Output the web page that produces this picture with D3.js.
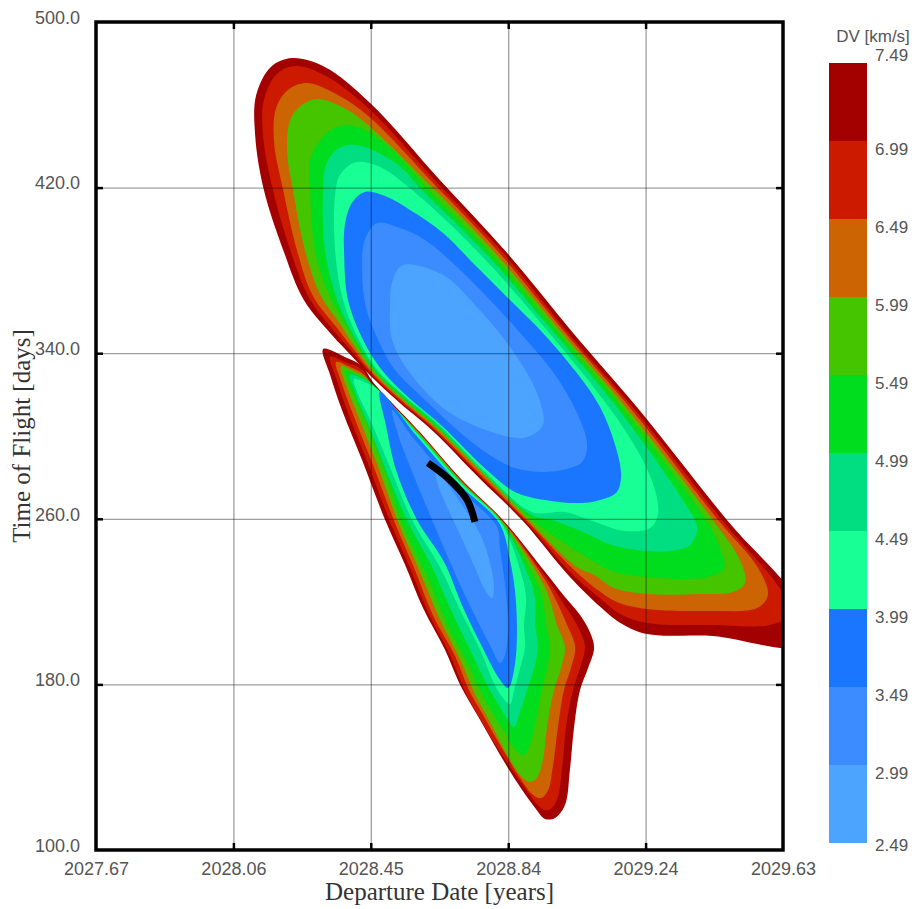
<!DOCTYPE html>
<html lang="en">
<head>
<meta charset="utf-8">
<title>Porkchop plot</title>
<script src="https://cdn.jsdelivr.net/npm/d3@7"></script>
<style>
  body { margin: 0; background: #fff; }
  .tick-label text { font-family: "Liberation Sans", Arial, sans-serif; font-size: 18px; fill: #555; }
  .cb-label { font-family: "Liberation Sans", Arial, sans-serif; font-size: 17px; fill: #555; }
  .axis-title { font-family: "Liberation Serif", "Times New Roman", serif; font-size: 25px; fill: #333; }
</style>
</head>
<body>
<svg id="chart" width="918" height="909"></svg>
<script>

var xTicks = [2027.67, 2028.062, 2028.454, 2028.846, 2029.238, 2029.63];
var xTickLabels = ["2027.67", "2028.06", "2028.45", "2028.84", "2029.24", "2029.63"];
var yTicks = [100, 180, 260, 340, 420, 500];
var dvLevels = [7.49, 6.99, 6.49, 5.99, 5.49, 4.99, 4.49, 3.99, 3.49, 2.99, 2.49];
var bandColors = ["#a30000", "#cc1a00", "#cc6404", "#45c400", "#00dc1e", "#00de82", "#18ff96", "#1a76ff", "#3c8cff", "#4ca4ff"];

// contour lines: [departure year, time of flight days]
// upper lobe, region below each level
var up749 = [[2028.457,328.5],[2028.375,343.0],[2028.338,349.8],[2028.263,365.7],[2028.204,389.9],[2028.149,418.8],[2028.124,445.4],[2028.127,464.7],[2028.169,478.3],[2028.229,482.6],[2028.323,478.3],[2028.452,460.9],[2028.651,423.7],[2028.843,388.4],[2029.031,349.8],[2029.213,314.0],[2029.470,259.4],[2029.679,217.4],[2029.679,199.0],[2029.430,203.4],[2029.242,204.3],[2029.171,209.2],[2029.122,215.5],[2029.022,231.9],[2028.888,258.9],[2028.766,279.2],[2028.631,302.4],[2028.537,315.9]];
var up699 = [[2028.460,329.0],[2028.386,343.5],[2028.349,350.7],[2028.278,366.7],[2028.224,389.9],[2028.175,418.8],[2028.147,444.4],[2028.149,462.3],[2028.186,474.9],[2028.238,478.7],[2028.321,474.4],[2028.446,458.5],[2028.663,418.8],[2028.837,387.4],[2029.022,348.8],[2029.208,312.6],[2029.456,259.4],[2029.633,222.7],[2029.639,212.6],[2029.593,208.7],[2029.430,208.7],[2029.242,209.7],[2029.165,214.0],[2029.117,220.3],[2029.028,233.3],[2028.891,259.4],[2028.768,280.2],[2028.634,302.9],[2028.540,316.4]];
var up649 = [[2028.463,329.5],[2028.395,344.0],[2028.360,351.7],[2028.289,367.6],[2028.243,389.9],[2028.204,418.8],[2028.178,442.0],[2028.184,458.5],[2028.221,467.6],[2028.272,470.5],[2028.338,466.7],[2028.440,455.6],[2028.651,418.8],[2028.826,387.4],[2029.014,348.8],[2029.199,312.6],[2029.445,259.4],[2029.559,236.2],[2029.587,223.2],[2029.556,216.9],[2029.430,215.5],[2029.242,216.4],[2029.156,219.8],[2029.102,225.6],[2029.034,235.3],[2028.894,259.9],[2028.771,280.7],[2028.637,303.4],[2028.543,316.9]];
var up599 = [[2028.466,330.0],[2028.403,344.4],[2028.372,352.7],[2028.309,368.6],[2028.266,389.9],[2028.232,418.8],[2028.215,438.2],[2028.226,453.6],[2028.261,460.4],[2028.303,462.8],[2028.366,459.4],[2028.429,452.7],[2028.637,418.8],[2028.814,387.4],[2029.005,348.8],[2029.188,312.6],[2029.430,259.4],[2029.507,240.1],[2029.522,229.0],[2029.487,224.6],[2029.393,223.7],[2029.242,223.7],[2029.148,226.6],[2029.091,232.9],[2029.042,236.7],[2028.897,260.4],[2028.774,281.6],[2028.640,303.9],[2028.546,317.4]];
var up549 = [[2028.469,330.4],[2028.412,344.9],[2028.383,353.6],[2028.332,369.6],[2028.295,389.9],[2028.281,418.8],[2028.283,434.3],[2028.323,445.4],[2028.366,449.8],[2028.423,448.8],[2028.509,439.1],[2028.620,418.8],[2028.800,387.4],[2028.994,348.8],[2029.176,312.6],[2029.410,259.4],[2029.450,245.9],[2029.462,236.2],[2029.416,231.9],[2029.242,231.9],[2029.142,234.8],[2029.079,240.6],[2028.980,251.2],[2028.903,261.4],[2028.777,282.6],[2028.643,304.4],[2028.549,317.9]];
var up499 = [[2028.472,330.9],[2028.412,346.4],[2028.358,365.7],[2028.323,389.9],[2028.318,418.8],[2028.326,430.9],[2028.352,437.7],[2028.389,440.6],[2028.437,439.6],[2028.532,430.9],[2028.600,418.8],[2028.786,387.4],[2028.982,348.8],[2029.162,312.6],[2029.353,266.7],[2029.385,255.6],[2029.365,247.3],[2029.308,244.4],[2029.242,244.4],[2029.142,247.3],[2029.059,253.6],[2028.980,258.9],[2028.908,262.3],[2028.780,281.6],[2028.646,304.8],[2028.552,318.4]];
var up449 = [[2028.475,331.4],[2028.420,346.4],[2028.375,365.7],[2028.352,389.9],[2028.352,416.4],[2028.363,425.1],[2028.386,430.0],[2028.415,432.4],[2028.475,430.4],[2028.572,418.8],[2028.768,387.4],[2028.968,348.8],[2029.139,312.6],[2029.222,290.8],[2029.265,273.9],[2029.273,261.8],[2029.251,255.6],[2029.179,254.1],[2029.094,258.5],[2029.008,263.3],[2028.914,263.3],[2028.783,282.1],[2028.649,305.3],[2028.554,318.8]];
var up399 = [[2028.483,332.4],[2028.432,346.4],[2028.389,365.7],[2028.378,387.4],[2028.380,401.9],[2028.400,412.6],[2028.437,417.9],[2028.495,415.9],[2028.566,409.2],[2028.660,398.1],[2028.757,381.6],[2028.851,365.7],[2028.945,349.8],[2029.042,330.4],[2029.108,314.0],[2029.151,295.7],[2029.168,281.2],[2029.156,273.0],[2029.108,269.1],[2029.051,267.6],[2028.951,269.1],[2028.865,273.0],[2028.788,283.1],[2028.651,305.8],[2028.557,319.3]];
var up349 = [[2028.472,402.9],[2028.537,400.5],[2028.609,394.7],[2028.694,382.6],[2028.794,365.7],[2028.885,348.8],[2028.980,329.5],[2029.045,310.1],[2029.071,295.7],[2029.057,287.4],[2029.022,284.5],[2028.951,282.6],[2028.865,284.5],[2028.780,292.3],[2028.694,303.9],[2028.594,319.8],[2028.523,331.9],[2028.475,346.4],[2028.440,362.3],[2028.429,380.2],[2028.437,394.7]];
var up299 = [[2028.546,382.6],[2028.660,377.8],[2028.757,362.3],[2028.851,343.0],[2028.928,320.8],[2028.945,305.3],[2028.900,299.5],[2028.851,299.5],[2028.680,311.1],[2028.566,330.4],[2028.515,346.4],[2028.509,362.3],[2028.517,375.4]];

// lower lobe
var low749 = [[2028.318,342.0],[2028.380,338.2],[2028.429,333.8],[2028.460,326.1],[2028.594,301.9],[2028.714,278.7],[2028.831,259.4],[2028.965,231.4],[2029.008,222.2],[2029.051,213.5],[2029.079,205.3],[2029.091,197.6],[2029.074,187.9],[2029.051,177.3],[2029.034,159.4],[2029.022,138.7],[2029.008,121.7],[2028.980,115.5],[2028.951,115.0],[2028.923,120.3],[2028.880,130.4],[2028.823,145.9],[2028.766,162.8],[2028.709,179.7],[2028.666,196.6],[2028.603,216.9],[2028.552,237.7],[2028.495,259.4],[2028.429,288.4],[2028.375,311.1],[2028.338,329.5]];
var low699 = [[2028.338,338.2],[2028.380,335.7],[2028.429,331.9],[2028.457,325.1],[2028.593,301.7],[2028.713,278.5],[2028.830,259.2],[2028.960,230.4],[2028.997,220.8],[2029.042,208.7],[2029.065,198.5],[2029.051,187.9],[2029.031,177.3],[2029.011,159.4],[2028.999,138.7],[2028.985,124.2],[2028.962,119.3],[2028.940,120.3],[2028.908,126.6],[2028.863,137.2],[2028.805,152.2],[2028.748,168.6],[2028.720,177.8],[2028.680,194.2],[2028.617,215.0],[2028.566,236.2],[2028.509,258.5],[2028.443,287.9],[2028.389,311.1],[2028.355,328.0]];
var low649 = [[2028.355,335.7],[2028.395,333.3],[2028.432,330.0],[2028.460,324.6],[2028.592,301.6],[2028.712,278.4],[2028.829,259.1],[2028.951,230.4],[2028.982,220.8],[2029.014,208.7],[2029.037,198.1],[2029.025,187.9],[2029.005,177.3],[2028.988,159.4],[2028.974,141.1],[2028.960,129.0],[2028.940,125.1],[2028.917,126.6],[2028.880,134.8],[2028.828,149.3],[2028.771,166.2],[2028.734,177.3],[2028.697,192.8],[2028.631,213.5],[2028.580,235.3],[2028.523,258.0],[2028.457,287.4],[2028.403,310.6],[2028.369,326.6]];
var low599 = [[2028.369,333.8],[2028.406,331.4],[2028.437,328.5],[2028.463,324.2],[2028.591,301.4],[2028.711,278.2],[2028.828,258.9],[2028.940,230.4],[2028.965,220.8],[2028.985,208.7],[2029.008,198.1],[2028.997,187.9],[2028.977,177.3],[2028.957,159.4],[2028.945,143.5],[2028.928,134.8],[2028.908,132.9],[2028.885,135.3],[2028.843,145.9],[2028.794,161.8],[2028.751,175.4],[2028.711,191.3],[2028.649,212.1],[2028.597,233.3],[2028.534,257.5],[2028.472,286.5],[2028.418,309.7],[2028.383,324.6]];
var low549 = [[2028.383,331.4],[2028.418,329.5],[2028.443,327.1],[2028.466,323.7],[2028.590,301.2],[2028.710,278.0],[2028.827,258.7],[2028.925,230.4],[2028.945,220.8],[2028.954,208.7],[2028.965,198.1],[2028.957,187.9],[2028.942,177.3],[2028.925,162.8],[2028.908,150.7],[2028.891,145.9],[2028.868,148.3],[2028.837,156.5],[2028.794,168.6],[2028.771,175.4],[2028.731,189.9],[2028.669,210.1],[2028.617,231.4],[2028.549,255.6],[2028.489,285.0],[2028.435,308.7],[2028.398,322.7]];
var low499 = [[2028.395,329.5],[2028.426,328.0],[2028.449,326.1],[2028.469,323.2],[2028.589,301.1],[2028.709,277.9],[2028.826,258.6],[2028.908,230.4],[2028.923,220.8],[2028.923,208.7],[2028.931,198.1],[2028.920,187.9],[2028.900,177.3],[2028.877,165.2],[2028.863,159.4],[2028.845,162.8],[2028.814,171.5],[2028.786,179.7],[2028.737,196.6],[2028.680,216.9],[2028.626,237.7],[2028.557,259.4],[2028.497,283.6],[2028.443,307.2],[2028.409,321.3]];
var low449 = [[2028.406,327.5],[2028.435,326.1],[2028.455,324.6],[2028.472,322.7],[2028.588,300.9],[2028.708,277.7],[2028.825,258.4],[2028.888,230.4],[2028.897,220.8],[2028.891,208.7],[2028.894,198.1],[2028.880,187.9],[2028.863,177.3],[2028.851,170.5],[2028.831,173.4],[2028.808,179.7],[2028.766,196.6],[2028.709,215.9],[2028.651,236.7],[2028.572,259.4],[2028.512,283.6],[2028.455,306.8],[2028.420,319.3]];
var low399 = [[2028.480,321.3],[2028.584,300.2],[2028.704,277.0],[2028.821,257.7],[2028.851,240.1],[2028.865,225.6],[2028.871,207.7],[2028.865,189.4],[2028.846,178.3],[2028.823,182.1],[2028.766,200.0],[2028.714,218.4],[2028.663,239.1],[2028.586,259.4],[2028.526,283.6],[2028.497,305.3]];
var low349 = [[2028.515,312.6],[2028.576,298.9],[2028.696,275.7],[2028.813,256.4],[2028.823,244.9],[2028.837,228.0],[2028.845,208.7],[2028.837,194.2],[2028.823,190.3],[2028.794,199.0],[2028.729,220.8],[2028.680,239.1],[2028.629,259.4],[2028.572,282.6],[2028.532,300.5]];
var low299 = [[2028.637,283.6],[2028.669,277.8],[2028.714,266.7],[2028.760,254.6],[2028.788,242.5],[2028.805,228.0],[2028.800,221.7],[2028.780,225.6],[2028.748,237.7],[2028.709,252.2],[2028.669,266.7],[2028.643,277.8]];

// trajectory arc
var arcPts = [[2028.617,287.0],[2028.680,278.7],[2028.729,269.1],[2028.751,258.5]];

var upperLobe = [up749, up699, up649, up599, up549, up499, up449, up399, up349, up299];
var lowerLobe = [low749, low699, low649, low599, low549, low499, low449, low399, low349, low299];

var svg = d3.select("#chart");
var plotLeft = 96, plotRight = 783, plotTop = 22, plotBottom = 850;

var x = d3.scaleLinear().domain([2027.67, 2029.63]).range([plotLeft, plotRight]);
var y = d3.scaleLinear().domain([100, 500]).range([plotBottom, plotTop]);
var cb = d3.scaleLinear().domain([2.49, 7.49]).range([843, 63]);

svg.append("clipPath").attr("id", "plot-clip")
  .append("rect")
  .attr("x", plotLeft).attr("y", plotTop)
  .attr("width", plotRight - plotLeft).attr("height", plotBottom - plotTop);

var shape = d3.line()
  .x(function(d) { return x(d[0]); })
  .y(function(d) { return y(d[1]); })
  .curve(d3.curveCatmullRomClosed.alpha(0.5));

var plot = svg.append("g").attr("clip-path", "url(#plot-clip)");

// paint level by level so inner bands win where lobes touch
for (var i = 0; i < bandColors.length; i++) {
  [upperLobe[i], lowerLobe[i]].forEach(function(pts) {
    plot.append("path")
      .attr("d", shape(pts))
      .attr("fill", bandColors[i]);
  });
}

// grid
var innerX = xTicks.slice(1, -1);
var innerY = yTicks.slice(1, -1);

svg.append("g")
  .attr("transform", "translate(0," + plotBottom + ")")
  .call(d3.axisBottom(x).tickValues(innerX).tickSize(-(plotBottom - plotTop)).tickFormat(""))
  .call(function(g) { g.select(".domain").remove(); })
  .selectAll("line").attr("stroke", "#000").attr("stroke-opacity", 0.38).attr("stroke-width", 1.3);

svg.append("g")
  .attr("transform", "translate(" + plotLeft + ",0)")
  .call(d3.axisLeft(y).tickValues(innerY).tickSize(-(plotRight - plotLeft)).tickFormat(""))
  .call(function(g) { g.select(".domain").remove(); })
  .selectAll("line").attr("stroke", "#000").attr("stroke-opacity", 0.38).attr("stroke-width", 1.3);

// trajectory
svg.append("path")
  .attr("d", d3.line().x(function(d) { return x(d[0]); }).y(function(d) { return y(d[1]); }).curve(d3.curveCatmullRom)(arcPts))
  .attr("fill", "none")
  .attr("stroke", "#000")
  .attr("stroke-width", 7);

// frame
svg.append("rect")
  .attr("x", plotLeft).attr("y", plotTop)
  .attr("width", plotRight - plotLeft).attr("height", plotBottom - plotTop)
  .attr("fill", "none").attr("stroke", "#000").attr("stroke-width", 3.5);

// inward ticks on all sides
function tickStyle(g) {
  g.select(".domain").remove();
  g.selectAll("line").attr("stroke", "#000").attr("stroke-width", 2.5);
}
svg.append("g").attr("transform", "translate(0," + plotBottom + ")")
  .call(d3.axisBottom(x).tickValues(innerX).tickSize(-7).tickFormat("")).call(tickStyle);
svg.append("g").attr("transform", "translate(0," + plotTop + ")")
  .call(d3.axisTop(x).tickValues(innerX).tickSize(-7).tickFormat("")).call(tickStyle);
svg.append("g").attr("transform", "translate(" + plotLeft + ",0)")
  .call(d3.axisLeft(y).tickValues(innerY).tickSize(-7).tickFormat("")).call(tickStyle);
svg.append("g").attr("transform", "translate(" + plotRight + ",0)")
  .call(d3.axisRight(y).tickValues(innerY).tickSize(-7).tickFormat("")).call(tickStyle);

// tick labels
svg.append("g")
  .attr("class", "tick-label")
  .attr("transform", "translate(" + plotLeft + ",0)")
  .call(d3.axisLeft(y).tickValues(yTicks).tickFormat(d3.format(".1f")).tickSize(0).tickPadding(16))
  .call(function(g) { g.select(".domain").remove(); })
  .selectAll("text").attr("dy", "0.07em");

svg.append("g")
  .attr("class", "tick-label")
  .attr("transform", "translate(0," + plotBottom + ")")
  .call(d3.axisBottom(x).tickValues(xTicks).tickFormat(function(d, i) { return xTickLabels[i]; }).tickSize(0).tickPadding(12))
  .call(function(g) { g.select(".domain").remove(); });

// axis titles
svg.append("text")
  .attr("class", "axis-title")
  .attr("x", (plotLeft + plotRight) / 2).attr("y", 900)
  .attr("text-anchor", "middle")
  .text("Departure Date [years]");

svg.append("text")
  .attr("class", "axis-title")
  .attr("transform", "translate(30," + ((plotTop + plotBottom) / 2) + ") rotate(-90)")
  .attr("text-anchor", "middle")
  .text("Time of Flight [days]");

// colour bar
var cbX = 829, cbW = 38;
svg.append("g").selectAll("rect")
  .data(bandColors)
  .join("rect")
  .attr("x", cbX)
  .attr("y", function(d, i) { return cb(dvLevels[i]); })
  .attr("width", cbW)
  .attr("height", function(d, i) { return cb(dvLevels[i + 1]) - cb(dvLevels[i]); })
  .attr("fill", function(d) { return d; });

svg.append("g").selectAll("text")
  .data(dvLevels)
  .join("text")
  .attr("class", "cb-label")
  .attr("x", 875)
  .attr("y", function(d, i) {
    var off = i === 0 ? -8 : (i === dvLevels.length - 1 ? 2 : 8);
    return cb(d) + off + 6;
  })
  .text(function(d) { return d.toFixed(2); });

svg.append("text")
  .attr("class", "cb-label")
  .attr("x", 873).attr("y", 42)
  .attr("text-anchor", "middle")
  .text("DV [km/s]");

</script>
</body>
</html>
